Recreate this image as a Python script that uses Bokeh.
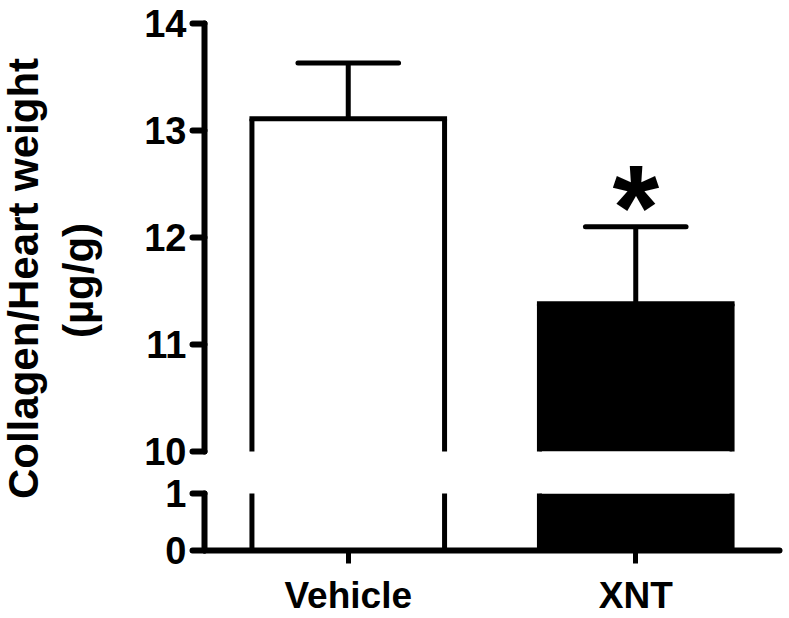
from bokeh.plotting import figure
from bokeh.models import ColumnDataSource, FixedTicker, Range1d, FactorRange, Label
from bokeh.transform import dodge
from bokeh.layouts import row, column
from bokeh.core.properties import value
from bokeh.embed import file_html
from bokeh.resources import INLINE

# ---- data ----
groups = ["Vehicle", "XNT"]
means = [13.11, 11.38]
sems = [0.52, 0.72]
fills = ["white", "black"]
marks = ["", "*"]
upper_ticks = [10, 11, 12, 13, 14]
lower_ticks = [0, 1]
upper_limits = (10, 14)
lower_limits = (0, 1)
ylabel_1 = "Collagen/Heart weight"
ylabel_2 = "(µg/g)"

FONT = "Liberation Sans"
BAR_W = 0.67

src = ColumnDataSource(dict(
    cat=groups, mean=means, hi=[m + s for m, s in zip(means, sems)],
    zero=[0] * len(groups), fill=fills, mark=marks,
))

xr = FactorRange(*groups)


def style_common(p):
    p.grid.visible = False
    p.outline_line_color = None
    p.background_fill_color = "white"
    p.border_fill_color = "white"
    ax = p.yaxis[0]
    ax.axis_line_width = 6
    ax.axis_line_cap = "round"
    ax.major_tick_line_width = 6
    ax.major_tick_line_cap = "round"
    ax.major_tick_out = 12
    ax.major_tick_in = 0
    ax.minor_tick_out = 0
    ax.minor_tick_in = 0
    ax.major_label_standoff = 6
    ax.major_label_text_font = FONT
    ax.major_label_text_font_style = "bold"
    ax.major_label_text_font_size = "38px"
    ax.major_label_text_color = "black"


def bars(p):
    # bar fill
    p.vbar(x="cat", top="mean", bottom="zero", width=BAR_W, fill_color="fill",
           line_color=None, source=src)
    # bar outline (sides + top) so the axis break leaves the sides open
    left = dodge("cat", -BAR_W / 2, range=xr)
    right = dodge("cat", BAR_W / 2, range=xr)
    p.segment(x0=left, y0="zero", x1=left, y1="mean", line_color="black",
              line_width=5, source=src)
    p.segment(x0=right, y0="zero", x1=right, y1="mean", line_color="black",
              line_width=5, source=src)
    p.segment(x0=left, y0="mean", x1=right, y1="mean", line_color="black",
              line_width=5, line_cap="square", source=src)


# ---- upper panel (10-14) ----
up = figure(width=667, height=472, x_range=xr, y_range=Range1d(*upper_limits),
            output_backend="svg", toolbar_location=None,
            min_border_left=86, min_border_right=6, min_border_top=23, min_border_bottom=21)
style_common(up)
up.xaxis.visible = False
up.yaxis.ticker = FixedTicker(ticks=upper_ticks)
bars(up)
up.segment(x0="cat", y0="mean", x1="cat", y1="hi", line_color="black", line_width=5, source=src)
up.segment(x0=dodge("cat", -0.175, range=xr), y0="hi", x1=dodge("cat", 0.175, range=xr), y1="hi",
           line_color="black", line_width=5, line_cap="round", source=src)
up.text(x="cat", y="hi", text="mark", text_font=value(FONT), text_font_style="bold",
        text_font_size="120px", text_align="center", text_baseline="alphabetic",
        y_offset=-20, text_color="black", source=src)

# ---- lower panel (0-1) ----
low = figure(width=667, height=146, x_range=xr, y_range=Range1d(*lower_limits),
             output_backend="svg", toolbar_location=None,
             min_border_left=86, min_border_right=6, min_border_top=21, min_border_bottom=67)
style_common(low)
low.yaxis.ticker = FixedTicker(ticks=lower_ticks)
bars(low)
xa = low.xaxis[0]
xa.axis_line_width = 6
xa.axis_line_cap = "round"
xa.major_tick_line_width = 5
xa.major_tick_out = 13
xa.major_tick_in = 0
xa.minor_tick_out = 0
xa.major_label_standoff = 11
xa.major_label_text_font = FONT
xa.major_label_text_font_style = "bold"
xa.major_label_text_font_size = "37px"
xa.major_label_text_color = "black"

# ---- y axis title panel ----
lab = figure(width=118, height=618, x_range=Range1d(0, 118), y_range=Range1d(618, 0),
             output_backend="svg", toolbar_location=None,
             min_border=0, min_border_left=0, min_border_right=0, min_border_top=0, min_border_bottom=0)
lab.axis.visible = False
lab.grid.visible = False
lab.outline_line_color = None
lab.add_layout(Label(x=23, y=278, text=ylabel_1, angle=90, angle_units="deg",
                     text_font=FONT, text_font_style="bold", text_font_size="42px",
                     text_align="center", text_baseline="middle", text_color="black"))
lab.add_layout(Label(x=78, y=280, text=ylabel_2, angle=90, angle_units="deg",
                     text_font=FONT, text_font_style="bold", text_font_size="42px",
                     text_align="center", text_baseline="middle", text_color="black"))

layout = row(lab, column(up, low, spacing=0), spacing=0)

with open("out.html", "w") as f:
    f.write(file_html(layout, INLINE))
